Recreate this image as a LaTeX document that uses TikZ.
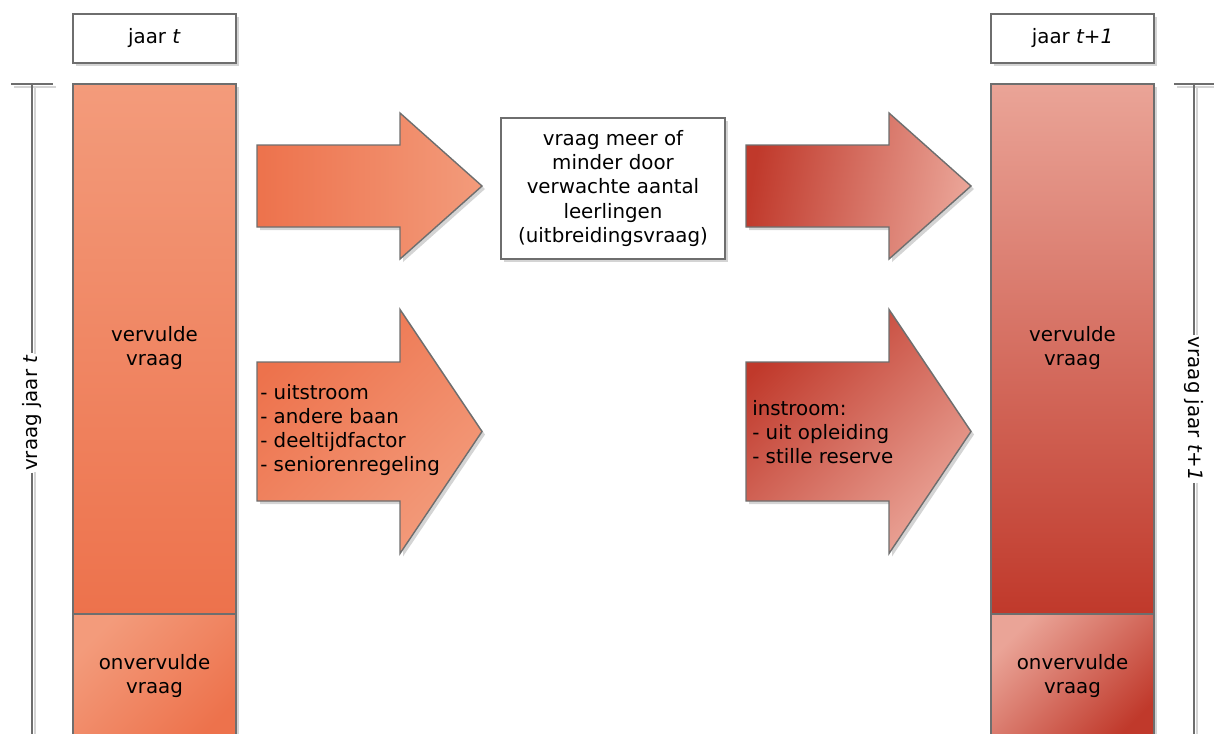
\documentclass[tikz,border=0pt]{standalone}
\usepackage{fontspec}
\setmainfont{DejaVu Sans}
\usetikzlibrary{positioning}
\definecolor{lijn}{RGB}{110,110,110}
\definecolor{oranjeD}{RGB}{237,114,76}
\definecolor{oranjeL}{RGB}{243,155,123}
\definecolor{roodD}{RGB}{192,57,43}
\definecolor{roodL}{RGB}{234,164,151}
\definecolor{schaduw}{RGB}{212,212,212}

% arrow: #1 shading, #2 left x, #3 mid y, #4 half body, #5 half head
\newcommand\pijl[5]{%
  \fill[schaduw,shift={(3,3)}] (#2,#3-#4) -- (#2+143,#3-#4) -- (#2+143,#3-#5)
    -- (#2+225,#3) -- (#2+143,#3+#5) -- (#2+143,#3+#4) -- (#2,#3+#4) -- cycle;
  \shade[#1,rand@] (#2,#3-#4) -- (#2+143,#3-#4) -- (#2+143,#3-#5)
    -- (#2+225,#3) -- (#2+143,#3+#5) -- (#2+143,#3+#4) -- (#2,#3+#4) -- cycle;}

\begin{document}
\begin{tikzpicture}[x=0.025cm,y=-0.025cm,line join=miter,
    rand@/.style={draw=lijn,line width=1pt},
    tekst@/.style={font=\fontsize{14.1}{17.1}\selectfont,inner sep=0pt},
    kop@/.style={rand@,fill=white,tekst@,minimum width=4.075cm,
      minimum height=1.225cm}]
  \useasboundingbox (0,0) rectangle (1214,733);
  \clip (0,0) rectangle (1214,733);

  % Year t.
  \fill[schaduw] (76,17) rectangle (239,66);
  \node[kop@] (kopT) at (154.5,38.5) {jaar \textit{t}};
  \fill[schaduw] (76,87) rectangle (239,745);
  \shade[top color=oranjeL,bottom color=oranjeD,rand@] (73,84) rectangle (236,614);
  \shade[top color=oranjeL,bottom color=oranjeD,shading angle=45,rand@]
    (73,614) rectangle (236,745);
  \node[tekst@,align=center] (vervuldT) at (154.5,348) {vervulde\\vraag};
  \node[tekst@,align=center] (onvervuldT) at (154.5,676) {onvervulde\\vraag};

  % Bracket for year t.
  \draw[schaduw,line width=1pt] (14,87) -- (56,87) (35,87) -- (35,745);
  \draw[rand@] (11,84) -- (53,84);
  \coordinate (bovenT) at (32,84);
  \coordinate (onderT) at (32,745);
  \node[tekst@,rotate=90,fill=white,inner xsep=1pt] (vraagT) at (32,413)
    {vraag jaar \textit{t}};
  \draw[rand@] (bovenT) -- (vraagT.east);
  \draw[rand@] (vraagT.west) -- (onderT);

  % The arrows.
  \pijl{left color=oranjeD,right color=oranjeL}{257}{186}{41}{73}
  \pijl{top color=oranjeD,bottom color=oranjeL,shading angle=45}{257}{431.5}{69.5}{122}
  \pijl{left color=roodD,right color=roodL,shading angle=80}{746}{186}{41}{73}
  \pijl{top color=roodD,bottom color=roodL,shading angle=45}{746}{431.5}{69.5}{122}

  \fill[schaduw] (504,121) rectangle (728,262);
  \node[kop@,minimum width=5.6cm,minimum height=3.525cm,align=center]
    (uitbreiding) at (613,188.5)
    {vraag meer of\\minder door\\verwachte aantal\\leerlingen\\(uitbreidingsvraag)};
  \node[tekst@,align=left,anchor=west] (uitstroom) at (260,430)
    {- uitstroom\\- andere baan\\- deeltijdfactor\\- seniorenregeling};
  \node[tekst@,align=left,anchor=west] (instroom) at (752,432)
    {instroom:\\- uit opleiding\\- stille reserve};

  % Year t+1.
  \fill[schaduw] (994,17) rectangle (1157,66);
  \node[kop@] (kopT1) at (1072.5,38.5) {jaar \textit{t+1}};
  \fill[schaduw] (994,87) rectangle (1157,745);
  \shade[top color=roodL,bottom color=roodD,rand@] (991,84) rectangle (1154,614);
  \shade[top color=roodL,bottom color=roodD,shading angle=45,rand@]
    (991,614) rectangle (1154,745);
  \node[tekst@,align=center] (vervuldT1) at (1072.5,348) {vervulde\\vraag};
  \node[tekst@,align=center] (onvervuldT1) at (1072.5,676) {onvervulde\\vraag};

  % Bracket for year t+1.
  \draw[schaduw,line width=1pt] (1177,87) -- (1217,87) (1197,87) -- (1197,745);
  \draw[rand@] (1174,84) -- (1216,84);
  \coordinate (bovenT1) at (1194,84);
  \coordinate (onderT1) at (1194,745);
  \node[tekst@,rotate=-90,fill=white,inner xsep=1pt] (vraagT1) at (1194,409)
    {vraag jaar \textit{t+1}};
  \draw[rand@] (bovenT1) -- (vraagT1.west);
  \draw[rand@] (vraagT1.east) -- (onderT1);
\end{tikzpicture}
\end{document}
